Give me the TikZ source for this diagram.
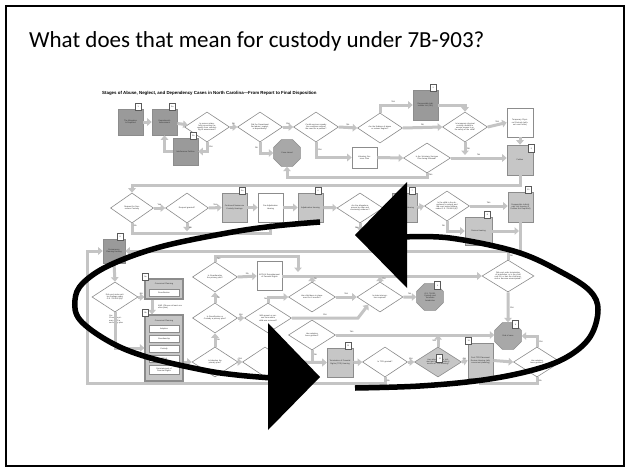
\documentclass[tikz,border=0pt]{standalone}
\usepackage{fontspec}
\setmainfont{Carlito}
\newfontfamily\chartfont{Liberation Sans}
\usetikzlibrary{shapes.geometric,arrows.meta,calc}
\definecolor{bord}{HTML}{8C8C8C}
\definecolor{dkgray}{HTML}{9A9A9A}
\definecolor{ltgray}{HTML}{C6C6C6}
\definecolor{octgray}{HTML}{A8A8A8}
\definecolor{lnc}{HTML}{C4C4C4}
\definecolor{tabc}{HTML}{5A5A5A}
\tikzset{
 txt/.style={font=\chartfont\fontsize{2}{2.3}\selectfont, align=center, text=black!80},
 fb/.style={txt, draw=bord, line width=0.6pt, minimum width=25pt, minimum height=28pt, text width=21pt, inner sep=0.5pt},
 dkb/.style={fb, fill=dkgray},
 ltb/.style={fb, fill=ltgray},
 wtb/.style={fb, fill=white},
 dia/.style={txt, diamond, shape aspect=1.5, draw=bord, line width=0.6pt, fill=white, minimum width=45pt, minimum height=30pt, inner sep=0pt, text width=24pt},
 oct/.style={txt, regular polygon, regular polygon sides=8, draw=bord, line width=0.6pt, fill=octgray, minimum size=29pt, inner sep=0pt, text width=14pt},
 tabbox/.style={txt, draw=tabc, line width=1pt, fill=white, minimum width=6pt, minimum height=7.5pt, inner sep=0pt},
 con/.style={draw=lnc, line width=3pt, -{Triangle[length=4.5pt,width=7.5pt]}},
 pln/.style={draw=lnc, line width=3pt},
 yn/.style={txt, inner sep=0.6pt, font=\chartfont\fontsize{2.2}{2.4}\selectfont},
 itembox/.style={txt, draw=bord, line width=0.5pt, fill=white, minimum width=30pt, minimum height=7pt, inner sep=0pt, text width=28pt},
 groupbox/.style={draw=bord, line width=1.2pt, fill=ltgray, minimum width=38pt, inner sep=0pt},
 bigarc/.style={line width=5.5pt, black},
}
\newcommand\tabR[2]{\node[tabbox] (t-#1) at ([xshift=-5pt,yshift=1.5pt]#1.north east) {#2};}
\newcommand\tabL[2]{\node[tabbox] (t-#1) at ([xshift=1pt,yshift=1.5pt]#1.north west) {#2};}
\begin{document}
\begin{tikzpicture}[x=1pt,y=-1pt]
\useasboundingbox (0,0) rectangle (629,471);
\fill[white] (0,0) rectangle (629,471);
\draw[line width=2pt] (5.5,5.5) rectangle (624,466);
\node[font=\fontsize{23}{27}\selectfont, anchor=base west, inner sep=0] (title) at (29,47) {What does that mean for custody under 7B-903?};

\node[font=\chartfont\bfseries\fontsize{4.4}{5}\selectfont, anchor=west, inner sep=0] (ctitle) at (102,93) {Stages of Abuse, Neglect, and Dependency Cases in North Carolina—From Report to Final Disposition};

% ---------- row 1
\node[dkb, minimum height=26pt] (n1) at (130.5,122) {The Allegation Is Reported};
\node[dkb, minimum height=26pt] (n2) at (164.5,122) {Department's Assessment};
\node[dia] (d1) at (207,127) {Is person unlawfully preventing the agency from conducting its assessment?};
\node[dkb, minimum height=27pt] (n3) at (185.5,151.5) {Interference Petition};
\node[dia] (d2) at (260,127) {Did the Department find abuse, neglect, or dependency?};
\node[oct] (o1) at (287,153) {Case closed};
\node[dia] (d3) at (316,127) {Could services remedy the conditions without the need for a petition?};
\node[dia] (d4) at (380,128) {Are the findings of abuse or serious neglect?};
\node[dkb, minimum height=30pt] (n4) at (425.5,105) {Responsible Individuals List (RIL)};
\node[dia] (d5) at (465,127) {Is temporary physical custody needed to ensure access to or the safety of the child?};
\node[wtb, minimum width=26pt, minimum height=29pt] (n5) at (520,122.5) {Temporary Physical Custody (without court order)};
\node[ltb, minimum width=26pt, minimum height=30pt] (n6) at (520,160) {Petition};
\node[wtb, minimum height=21pt] (n7) at (364.5,157.5) {Voluntary Services Plan};
\node[dia, minimum width=47pt] (d6) at (427,158) {Is the Voluntary Services Plan being followed?};

% ---------- row 2
\node[dia, minimum width=43pt] (d7) at (132,208) {Request for Nonsecure Custody};
\node[dia, minimum width=43pt] (d8) at (187,208) {Request granted?};
\node[ltb, minimum height=29pt] (n8) at (234.5,207.5) {Continued Nonsecure Custody Hearings};
\node[wtb, minimum height=29pt] (n9) at (270.5,207.5) {Pre-Adjudication Hearing};
\node[ltb, minimum height=29pt] (n10) at (310.5,207.5) {Adjudication Hearing};
\node[dia, minimum width=46pt] (d9) at (360,208) {Are the allegations proven by clear and convincing evidence?};
\node[ltb, minimum height=29pt] (n11) at (404.5,207.5) {Dispositional Hearing};
\node[dia] (d10) at (447,206) {Is the child in the department's custody and did court make findings under G.S. 7B-906.1(n)?};
\node[ltb, minimum width=27pt, minimum height=28pt] (n12) at (478.5,231) {Review Hearing};
\node[ltb, minimum height=30pt] (n13) at (520.5,207) {Responsible Individuals List Hearing (If Petition Not Required)};

% ---------- row 3
\node[dkb, minimum width=22pt, minimum height=24pt, text width=19pt] (n14) at (114,251) {Permanency Planning Hearing};
\node[dia, minimum width=46pt] (d11) at (115,297) {Did court make written findings under G.S. 7B-906.2(b)?};
\node[txt, align=left, text width=15pt, anchor=north west, inner sep=0] (yes11) at (109,315) {Yes:\\Choose a primary AND a secondary plan};

\node[groupbox, minimum height=20pt] (n15) at (164,289) {};
\node[txt, inner sep=0] (n15h) at (164,283.5) {Concurrent Planning};
\node[itembox] (n15a) at (164,293) {Reunification};
\node[txt, align=left, anchor=west, inner sep=0, text width=24pt] (andtxt) at (158,307) {AND (Choose at least one other plan)};

\node[groupbox, minimum height=66pt] (n16) at (164,348) {};
\node[txt, inner sep=0] (n16h) at (164,320.5) {Concurrent Planning};
\node[itembox] (n16a) at (164,329) {Adoption};
\node[itembox] (n16b) at (164,339) {Guardianship};
\node[itembox] (n16c) at (164,349) {Custody};
\node[itembox] (n16d) at (164,359) {APPLA};
\node[itembox, minimum height=9pt] (n16e) at (164,370) {Reinstatement of Parental Rights};

\node[dia] (d12) at (215,277) {Is Guardianship the primary plan?};
\node[wtb, minimum height=29pt] (n17) at (269.5,276) {APPLA/ Reinstatement of Parental Rights};
\node[dia] (d13) at (215,318) {Is Reunification or Custody a primary plan?};
\node[dia, minimum width=47pt] (d16) at (268,318) {With parent or person from whom child was removed?};
\node[dia, minimum width=47pt] (d17) at (312,297) {Has child been in placement for 6 months?};
\node[dia, minimum width=46pt] (d18) at (380,297) {Is state intervention required?};
\node[oct] (o2) at (430,297) {G.S. 7B-911 Custody and Terminate Jurisdiction};
\node[dia, minimum width=52pt, minimum height=32pt, text width=27pt] (d15) at (508,276) {Did court order termination of jurisdiction, or is the child over 18, or has the child married or become emancipated?};
\node[oct] (o3) at (508,336) {End of case};
\node[dia, minimum width=47pt] (d19) at (312,335) {Has adoption been granted?};
\node[dia, minimum width=46pt] (d14) at (215,362) {Is Adoption the primary plan?};
\node[dia] (d20) at (265,362) {};
\node[ltb, minimum width=26pt, minimum height=29pt] (n18) at (340,362.5) {Termination of Parental Rights (TPR) Hearing};
\node[dia] (d21) at (385,362) {Is TPR granted?};
\node[dia, minimum width=47pt, fill=ltgray] (d22) at (438,362) {Has adoption been initiated and granted within 6 months of TPR hearing?};
\node[ltb, minimum height=35pt] (n19) at (480.5,360.5) {Post-TPR Placement Review Hearing (with concurrent planning)};
\node[dia, minimum width=47pt] (d23) at (537,362) {Has adoption been granted?};

% ---------- connectors row 1
\draw[con] (n1) -- (n2);
\draw[con] (n2) -- (d1);
\draw[con] (d1.south) |- node[yn,pos=0.25,right]{Yes} (n3.east);
\draw[con] (n3.west) -| (n2.south);
\draw[con] (d1.east) -- node[yn,above]{No} (d2.west);
\draw[con] (d2.east) -- node[yn,above]{Yes} (d3.west);
\draw[con] (d2.south) |- node[yn,pos=0.25,left]{No} (o1.west);
\draw[con] (d3.east) -- node[yn,above]{No} (d4.west);
\draw[con] (d3.south) |- node[yn,pos=0.25,right]{Yes} (n7.west);
\draw[con] (d4.north) |- node[yn,pos=0.7,above]{Yes} (n4.west);
\draw[con] (d4.east) -- node[yn,above]{No} (d5.west);
\draw[con] (n4.east) -| (d5.north);
\draw[con] (d5.east) -- node[yn,above]{Yes} (n5.west);
\coordinate (c1) at (465,155);
\draw[con] (d5.south) -- node[yn,right]{No} (c1);
\draw[con] (n5.south) -- (n6.north);
\draw[con] (n7.east) -- (d6.west);
\draw[con] (d6.east) -- node[yn,above]{No} (d6.east -| n6.west);
\draw[con] (d6.south) -- ++(0,4) -| (o1.south);
\node[yn, right] (y6) at (428,175) {Yes};
\draw[con] (n6.south) -- ++(0,10) -| (d7.north);

% ---------- connectors row 2
\draw[con] (d7.east) -- node[yn,above]{Yes} (d8.west);
\draw[con] (d7.south) -- ++(0,10) -| (n9.south);
\node[yn, right] (y7) at (133,226) {No};
\draw[con] (d8.south) -- node[yn,right]{No} ++(0,8);
\draw[con] (d8.east) -- node[yn,above]{Yes} (n8.west);
\draw[con] (n8) -- (n9);
\draw[con] (n9) -- (n10);
\draw[con] (n10) -- (d9);
\draw[con] (d9.east) -- node[yn,above]{Yes} (n11.west);
\draw[con] (d9.south) -- node[yn,left]{No} ++(0,8);
\draw[con] (n11.east) -- (d10.west);
\draw[con] (d10.east) -- node[yn,above]{Yes} (d10.east -| n13.west);
\draw[con] (d10.south) |- node[yn,pos=0.25,left]{No} (n12.west);
\draw[con] (n13.south) |- (n14.east);
\draw[con] (n12.east) -- ([xshift=-1.5pt]n12.east -| n13.south);

% ---------- connectors row 3
\draw[con] (n14.south) -- (d11.north);
\draw[con] (d11.east) -- node[yn,above]{No} (d11.east -| n15.west);
\draw[con] (d11.south) |- (n16.west);
\draw[con] ([xshift=-12pt]n15.south) -- ([xshift=-12pt]n16.north);
\draw[con] (n16.east |- d14.west) -- (d14.west);
\draw[con] (d14.north) -- node[yn,right]{No} (d13.south);
\draw[con] (d13.north) -- node[yn,right]{No} (d12.south);
\draw[con] (d12.east) -- node[yn,above]{No} (n17.west);
\coordinate (j1) at (298,272);
\draw[con] (d12.north) -- ++(0,-5) -| (j1);
\node[yn, right] (y12) at (216,259) {Yes};
\draw[con] (n17.east) -- (n17.east -| d15.west);
\draw[con] (d13.east) -- node[yn,above]{Yes} (d16.west);
\draw[con] (d16.north) |- (d17.west);
\node[yn, left] (n16n) at (268,299) {No};
\coordinate (j2) at (358,318);
\draw[con] (d16.east) -- node[yn,above]{Yes} (j2) -- (d18.south west);
\draw[con] (d17.east) -- node[yn,above]{Yes} (d18.west);
\draw[con] (d17.north) -- node[yn,right]{No} ++(0,-5);
\draw[con] (d18.north) -- node[yn,right]{Yes} ++(0,-5);
\draw[con] (d18.east) -- node[yn,above]{No} (o2.west);
\draw[con] (d15.south) -- node[yn,right]{Yes} (o3.north);
\draw[pln] (d15.north) -- node[yn,right]{No} (d15.north |- n14.east);
\draw[con] (d19.east) -- node[yn,above,pos=0.1]{Yes} (d19.east -| o3.west);
\draw[con] (d19.south) |- node[yn,pos=0.2,right]{No} (n18.west);
\draw[con] (d14.east) -- node[yn,above]{Yes} (d20.west);
\draw[con] (d20.east) -- (n18.west);
\draw[con] (n18.east) -- (d21.west);
\draw[con] (d21.east) -- node[yn,above]{Yes} (d22.west);
\draw[con] (d22.north) -- node[yn,left]{Yes} (d22.north |- d19.east);
\draw[con] (d22.east) -- node[yn,above]{No} (n19.west);
\draw[con] (n19.east) -- (d23.west);
\draw[con] (d23.north) |- node[yn,pos=0.25,right]{Yes} (o3.east);
\draw[con] (d23.south) -- ++(0,6) -| (n19.south);
\node[yn, right] (y23) at (538,381) {No};
\draw[con] (d21.south) -- ++(0,6) -| ($(n14.west)+(-15,0)$) -- (n14.west);
\node[yn, right] (y21) at (386,381) {No};

% ---------- tabs
\tabR{n1}{1}
\tabR{n2}{2a}
\tabR{n3}{2b}
\tabR{n4}{3}
\node[tabbox] (t-n6) at ([xshift=-2pt,yshift=-4pt]n6.north east) {5};
\tabR{n8}{5a}
\tabR{n10}{6}
\tabR{n11}{7}
\tabR{n12}{8}
\tabR{n13}{10}
\tabR{n14}{9}
\tabL{n15}{9a}
\tabL{n16}{9b}
\node[tabbox] (t-o2) at ([xshift=-2pt,yshift=2pt]o2.north east) {4};
\node[tabbox] (t-o3) at ([xshift=-2pt,yshift=2pt]o3.north east) {4};
\tabR{n18}{11}
\node[tabbox] (t-d22) at ([xshift=-10pt,yshift=-4pt]d22.north east) {12};
\tabL{n19}{13}

% ---------- big cycle arrows
\draw[bigarc] plot[smooth, tension=0.6] coordinates {(320,222) (275,226) (227,233) (160,247) (110,265) (83,283) (75,300) (80,320) (110,342) (147,357) (203,370) (237,375) (272,378)};
\draw[bigarc] plot[smooth, tension=0.6] coordinates {(403,237) (450,238) (517,252) (563,273) (590,291) (598,310) (590,337) (567,357) (533,370) (483,380) (420,386) (355,388)};
\fill[black] (407,182) -- (407,288) -- (355,235) -- cycle;
\fill[black] (268,323) -- (268,430) -- (320,377) -- cycle;
\end{tikzpicture}
\end{document}
